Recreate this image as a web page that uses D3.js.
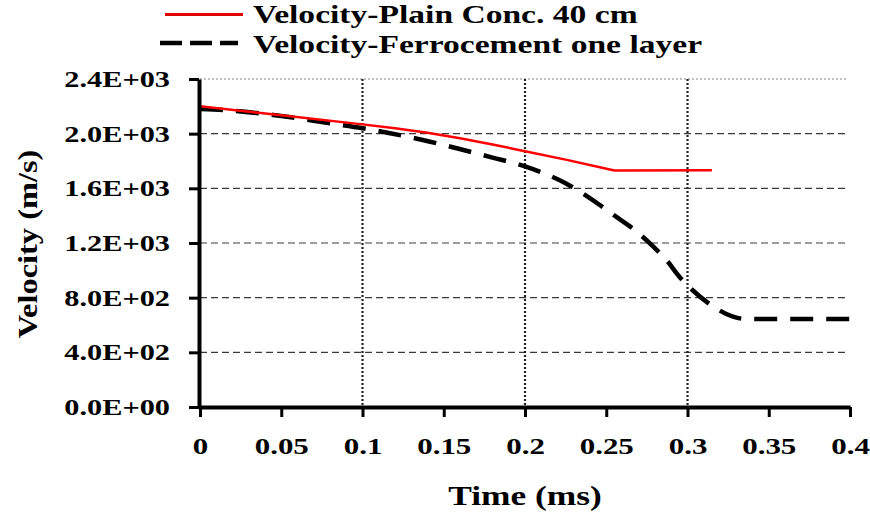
<!DOCTYPE html>
<html>
<head>
<meta charset="utf-8">
<script src="https://cdn.jsdelivr.net/npm/d3@7"></script>
<style>
  html, body { margin: 0; padding: 0; background: #fff; }
  svg text { font-family: "Liberation Serif", "Times New Roman", serif; font-weight: bold; fill: #000; }
</style>
</head>
<body>
<svg id="chart" width="870" height="515"></svg>
<script>
// Velocity history of the projectile for two target types
const plainTime = [0, 0.05, 0.1, 0.12, 0.14, 0.16, 0.18, 0.2, 0.225, 0.255, 0.315];
const plainVel  = [2200, 2135, 2068, 2040, 2006, 1966, 1921, 1872, 1810, 1730, 1732];

const ferroTime = [0, 0.015, 0.045, 0.08, 0.1, 0.117, 0.137, 0.158, 0.18, 0.2, 0.225, 0.246, 0.256, 0.27, 0.279, 0.287, 0.295, 0.303, 0.316, 0.328, 0.336, 0.4];
const ferroVel  = [2180, 2172, 2137, 2076, 2040, 2003, 1954, 1893, 1825, 1760, 1637, 1478, 1393, 1271, 1173, 1076, 953, 856, 734, 661, 644, 644];

const xTicks = [0, 0.05, 0.1, 0.15, 0.2, 0.25, 0.3, 0.35, 0.4];
const xTickLabels = ["0", "0.05", "0.1", "0.15", "0.2", "0.25", "0.3", "0.35", "0.4"];
const yTicks = [0, 400, 800, 1200, 1600, 2000, 2400];
const yTickLabels = ["0.0E+00", "4.0E+02", "8.0E+02", "1.2E+03", "1.6E+03", "2.0E+03", "2.4E+03"];
const xGridTicks = [0.1, 0.2, 0.3];

const seriesNames = ["Velocity-Plain Conc. 40 cm", "Velocity-Ferrocement one layer"];

const svg = d3.select("#chart");
const plotLeft = 200, plotRight = 850, plotTop = 79, plotBottom = 407;
const stretch = 1.29; // horizontal widening of all lettering

const x = d3.scaleLinear().domain([0, 0.4]).range([plotLeft, plotRight]);
const y = d3.scaleLinear().domain([0, 2400]).range([plotBottom, plotTop]);

// horizontal gridlines
svg.append("g").selectAll("line")
  .data(yTicks.filter(v => v > 0))
  .join("line")
  .attr("x1", plotLeft).attr("x2", plotRight - 2)
  .attr("y1", d => y(d)).attr("y2", d => y(d))
  .attr("stroke", d => d === 2400 ? "#808080" : "#3a3a3a")
  .attr("stroke-width", d => d === 2400 ? 1 : 1.2)
  .attr("stroke-dasharray", d => d === 2400 ? "2,2" : "7,4");

// vertical dotted gridlines
svg.append("g").selectAll("line")
  .data(xGridTicks)
  .join("line")
  .attr("x1", d => x(d)).attr("x2", d => x(d))
  .attr("y1", plotTop).attr("y2", plotBottom)
  .attr("stroke", "#222")
  .attr("stroke-width", 2.2)
  .attr("stroke-dasharray", "2,2");

// data lines
const plainData = plainTime.map((t, i) => [t, plainVel[i]]);
const ferroData = ferroTime.map((t, i) => [t, ferroVel[i]]);

svg.append("path")
  .datum(ferroData)
  .attr("d", d3.line().x(d => x(d[0])).y(d => y(d[1])).curve(d3.curveMonotoneX))
  .attr("fill", "none")
  .attr("stroke", "#000")
  .attr("stroke-width", 4.5)
  .attr("stroke-dasharray", "23,13");

svg.append("path")
  .datum(plainData)
  .attr("d", d3.line().x(d => x(d[0])).y(d => y(d[1])))
  .attr("fill", "none")
  .attr("stroke", "#ff0000")
  .attr("stroke-width", 2.5)
  .attr("stroke-linejoin", "round");

// axes
const xAxis = d3.axisBottom(x)
  .tickValues(xTicks)
  .tickFormat((d, i) => xTickLabels[i])
  .tickSizeInner(10).tickSizeOuter(0).tickPadding(26);
const gx = svg.append("g").attr("transform", `translate(0,${plotBottom})`).call(xAxis);
gx.select(".domain").attr("stroke", "#000").attr("stroke-width", 4);
gx.selectAll(".tick line").attr("stroke", "#000").attr("stroke-width", 3);
gx.selectAll(".tick text")
  .attr("font-size", 24)
  .attr("dy", "0")
  .attr("y", 47)
  .attr("transform", `scale(${stretch},1)`)
  .style("font-family", "Liberation Serif, serif").style("font-weight", "bold");

const yAxis = d3.axisLeft(y)
  .tickValues(yTicks)
  .tickFormat((d, i) => yTickLabels[i])
  .tickSizeInner(10).tickSizeOuter(0).tickPadding(20);
const gy = svg.append("g").attr("transform", `translate(${plotLeft - 1},0)`).call(yAxis);
gy.select(".domain").attr("stroke", "#000").attr("stroke-width", 4);
gy.selectAll(".tick line").attr("stroke", "#000").attr("stroke-width", 3);
gy.selectAll(".tick text")
  .attr("font-size", 23.5)
  .attr("x", -29 / stretch)
  .attr("transform", `scale(${stretch},1)`)
  .style("font-family", "Liberation Serif, serif").style("font-weight", "bold");

// axis titles
svg.append("text")
  .attr("transform", `translate(525,505) scale(1.31,1)`)
  .attr("text-anchor", "middle")
  .attr("font-size", 27)
  .text("Time (ms)");

svg.append("text")
  .attr("transform", `translate(37,244) rotate(-90) scale(1.2,1)`)
  .attr("text-anchor", "middle")
  .attr("font-size", 27)
  .text("Velocity (m/s)");

// legend
const legend = svg.append("g");
legend.append("line")
  .attr("x1", 165).attr("x2", 243).attr("y1", 14.5).attr("y2", 14.5)
  .attr("stroke", "#e00000").attr("stroke-width", 3);
legend.append("line")
  .attr("x1", 160).attr("x2", 238).attr("y1", 43).attr("y2", 43)
  .attr("stroke", "#000").attr("stroke-width", 4.5).attr("stroke-dasharray", "22,8");
legend.append("text")
  .attr("transform", `translate(253,23) scale(1.37,1)`)
  .attr("font-size", 24.5).text(seriesNames[0]);
legend.append("text")
  .attr("transform", `translate(253,53) scale(1.37,1)`)
  .attr("font-size", 24.5).text(seriesNames[1]);
</script>
</body>
</html>
